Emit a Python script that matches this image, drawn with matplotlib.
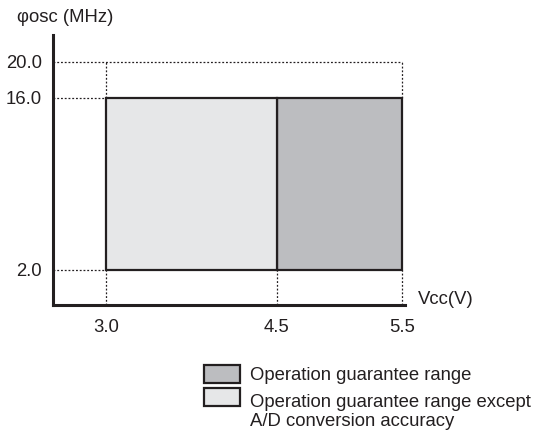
import numpy as np
import matplotlib
matplotlib.use("Agg")
import matplotlib.pyplot as plt
from matplotlib.patches import Rectangle

plt.rcParams['font.family'] = ['Liberation Sans', 'DejaVu Sans']

# supply voltage ticks (V) and where they sit on the schematic axis
vcc_ticks = [3.0, 4.5, 5.5]
vcc_pos = [106, 277, 402]
# oscillator frequency ticks (MHz) and their schematic positions
fosc_ticks = [2.0, 16.0, 20.0]
fosc_pos = [163, 335, 371]

# regions: (vmin, vmax, fmin, fmax, colour, label)
region_vmin = [4.5, 3.0]
region_vmax = [5.5, 4.5]
region_fmin = [2.0, 2.0]
region_fmax = [16.0, 16.0]
region_color = ['#bcbdc0', '#e6e7e8']
region_label = ['Operation guarantee range',
                'Operation guarantee range except\nA/D conversion accuracy']


def pw(v, xs, ys):
  # piecewise linear map with linear extrapolation at both ends
  v = np.asarray(v, dtype=float)
  out = np.interp(v, xs, ys)
  lo = v < xs[0]
  hi = v > xs[-1]
  s0 = (ys[1] - ys[0]) / (xs[1] - xs[0])
  s1 = (ys[-1] - ys[-2]) / (xs[-1] - xs[-2])
  out = np.where(lo, ys[0] + (v - xs[0]) * s0, out)
  out = np.where(hi, ys[-1] + (v - xs[-1]) * s1, out)
  return out


W, H = 542, 433
FS = 13.3
fig = plt.figure(figsize=(W / 100, H / 100), dpi=100)
ax_l, ax_r, ax_t, ax_b = 53, 405, 35, 305
ax = fig.add_axes([ax_l / W, (H - ax_b) / H, (ax_r - ax_l) / W, (ax_b - ax_t) / H])

ax.set_xscale('function', functions=(lambda v: pw(v, vcc_ticks, vcc_pos),
                                     lambda p: pw(p, vcc_pos, vcc_ticks)))
ax.set_yscale('function', functions=(lambda v: pw(v, fosc_ticks, fosc_pos),
                                     lambda p: pw(p, fosc_pos, fosc_ticks)))
ax.set_xlim(float(pw(ax_l, vcc_pos, vcc_ticks)), float(pw(ax_r, vcc_pos, vcc_ticks)))
ax.set_ylim(float(pw(H - ax_b, fosc_pos, fosc_ticks)), float(pw(H - ax_t, fosc_pos, fosc_ticks)))

for x0, x1, y0, y1, c in zip(region_vmin, region_vmax, region_fmin, region_fmax, region_color):
  ax.add_patch(Rectangle((x0, y0), x1 - x0, y1 - y0, facecolor=c,
                         edgecolor='#231f20', linewidth=1.6, zorder=3))

# dotted guide lines
dot = dict(color='#231f20', linewidth=0.9, linestyle=(0, (1.5, 1.5)), zorder=2)
xmin, xmax = ax.get_xlim()
ymin, ymax = ax.get_ylim()
vlo, vhi = min(vcc_ticks), max(vcc_ticks)
ftop = max(fosc_ticks)
fhi = max(region_fmax)
flo = min(region_fmin)
ax.plot([xmin, vhi], [ftop, ftop], **dot)
ax.plot([xmin, vlo], [fhi, fhi], **dot)
ax.plot([xmin, vlo], [flo, flo], **dot)
for v in [vlo, vhi]:
  ax.plot([v, v], [fhi, ftop], **dot)
for v in vcc_ticks:
  ax.plot([v, v], [ymin, flo], **dot)

for s in ['top', 'right']:
  ax.spines[s].set_visible(False)
for s in ['left', 'bottom']:
  ax.spines[s].set_linewidth(2.2)
  ax.spines[s].set_color('#231f20')

ax.set_xticks(vcc_ticks)
ax.set_xticklabels(['%.1f' % v for v in vcc_ticks])
ax.set_yticks(fosc_ticks)
ax.set_yticklabels(['%.1f' % v for v in fosc_ticks])
ax.tick_params(length=0, labelsize=FS, colors='#231f20')
ax.tick_params(axis='x', pad=10)
ax.tick_params(axis='y', pad=8)
ax.patch.set_alpha(0)

fig.text(17 / W, 1 - 17 / H, '\u03c6osc (MHz)', fontsize=FS, va='center', ha='left', color='#231f20')
fig.text(418 / W, 1 - 300 / H, 'Vcc(V)', fontsize=FS, va='center', ha='left', color='#231f20')

# legend drawn by hand
leg_y = [373.5, 396.5]
txt_y = [375, 412]
for yc, ty, c, lab in zip(leg_y, txt_y, region_color, region_label):
  fig.patches.append(Rectangle((204 / W, 1 - (yc + 9) / H), 36 / W, 18 / H,
                               transform=fig.transFigure, facecolor=c,
                               edgecolor='#231f20', linewidth=1.6))
  fig.text(250 / W, 1 - ty / H, lab, fontsize=FS, va='center',
           ha='left', color='#231f20', linespacing=1.18)

fig.savefig('out.png', dpi=100)
